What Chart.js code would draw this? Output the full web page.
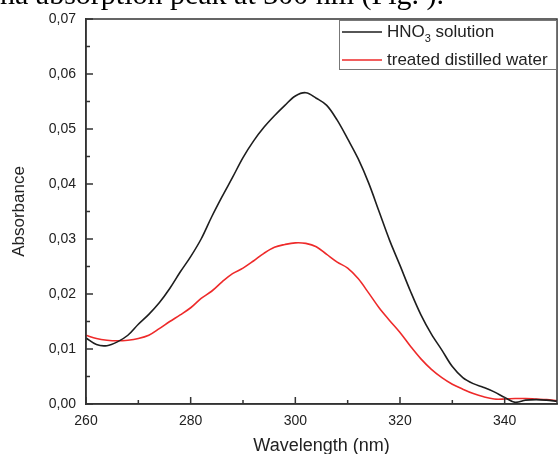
<!DOCTYPE html>
<html>
<head>
<meta charset="utf-8">
<script src="https://cdn.jsdelivr.net/npm/chart.js@4/dist/chart.umd.min.js"></script>
<style>
  html, body { margin: 0; padding: 0; background: #fff; }
  #wrap { position: relative; width: 558px; height: 454px; }
</style>
</head>
<body>
<div id="wrap"><canvas id="chart" width="558" height="454"></canvas></div>
<script>
'use strict';

// UV-Vis absorbance spectra.
const wavelength = [260, 262, 264, 266, 268, 270, 272, 274, 276, 278, 280, 282, 284, 286, 288, 290,
  292, 294, 296, 298, 300, 302, 304, 306, 308, 310, 312, 314, 316, 318, 320, 322, 324, 326, 328,
  330, 332, 334, 336, 338, 340, 342, 344, 346, 348, 350];

const hno3 = [0.0120, 0.0108, 0.0106, 0.0113, 0.0125, 0.0145, 0.0163, 0.0184, 0.0210, 0.0240,
  0.0268, 0.0300, 0.0340, 0.0377, 0.0412, 0.0448, 0.0478, 0.0503, 0.0524, 0.0543, 0.0560, 0.0566,
  0.0556, 0.0543, 0.0516, 0.0482, 0.0446, 0.0402, 0.0350, 0.0298, 0.0252, 0.0205, 0.0162, 0.0127,
  0.0098, 0.0068, 0.0048, 0.0037, 0.0030, 0.0022, 0.0012, 0.0003, 0.0007, 0.0008, 0.0007, 0.0005];

const treatedWater = [0.0125, 0.0119, 0.0116, 0.0115, 0.0116, 0.0119, 0.0125, 0.0137, 0.0150,
  0.0162, 0.0175, 0.0192, 0.0205, 0.0222, 0.0237, 0.0247, 0.0260, 0.0274, 0.0285, 0.0290, 0.0293,
  0.0292, 0.0286, 0.0272, 0.0258, 0.0247, 0.0228, 0.0202, 0.0175, 0.0152, 0.0130, 0.0105, 0.0082,
  0.0063, 0.0048, 0.0036, 0.0027, 0.0019, 0.0013, 0.0009, 0.0009, 0.0010, 0.0010, 0.0009, 0.0008,
  0.0006];

const xTicks = [260, 280, 300, 320, 340];
const xMinor = [270, 290, 310, 330];
const yTicks = [0, 0.01, 0.02, 0.03, 0.04, 0.05, 0.06, 0.07];
const yMinor = [0.005, 0.015, 0.025, 0.035, 0.045, 0.055, 0.065];

const AXIS = '#333';
const FONT = '"Liberation Sans", Arial, sans-serif';

const pts = (ys) => wavelength.map((x, i) => ({ x, y: ys[i] }));

// Inward tick marks, top/right frame, legend with subscript, clipped caption line.
const decor = {
  id: 'decor',
  afterDraw(chart) {
    const ctx = chart.ctx, a = chart.chartArea;
    const xs = chart.scales.x, ys = chart.scales.y;
    ctx.save();
    ctx.strokeStyle = AXIS;
    ctx.lineWidth = 1.5;
    ctx.strokeRect(a.left, a.top, a.right - a.left, a.bottom - a.top);

    ctx.beginPath();
    xTicks.forEach(v => { const p = xs.getPixelForValue(v); ctx.moveTo(p, a.bottom); ctx.lineTo(p, a.bottom - 7); });
    xMinor.forEach(v => { const p = xs.getPixelForValue(v); ctx.moveTo(p, a.bottom); ctx.lineTo(p, a.bottom - 4); });
    yTicks.forEach(v => { const p = ys.getPixelForValue(v); ctx.moveTo(a.left, p); ctx.lineTo(a.left + 7, p); });
    yMinor.forEach(v => { const p = ys.getPixelForValue(v); ctx.moveTo(a.left, p); ctx.lineTo(a.left + 4, p); });
    ctx.stroke();

    // legend box
    const bx = 339, by = a.top + 1, bw = a.right - 1 - bx, bh = 49;
    ctx.fillStyle = '#fff';
    ctx.fillRect(bx, by, bw, bh);
    ctx.strokeStyle = '#777';
    ctx.lineWidth = 1;
    ctx.strokeRect(bx + 0.5, by + 0.5, bw, bh);

    const rows = [
      { color: chart.data.datasets[0].borderColor, y: by + 12, parts: [['HNO', 0], ['3', 1], [' solution', 0]] },
      { color: chart.data.datasets[1].borderColor, y: by + 40, parts: [['treated distilled water', 0]] },
    ];
    ctx.textBaseline = 'middle';
    ctx.textAlign = 'left';
    rows.forEach(r => {
      ctx.strokeStyle = r.color;
      ctx.lineWidth = 1.5;
      ctx.beginPath();
      ctx.moveTo(342, r.y); ctx.lineTo(382, r.y);
      ctx.stroke();
      let x = 387;
      ctx.fillStyle = '#222';
      r.parts.forEach(([t, sub]) => {
        ctx.font = (sub ? '11px ' : '17px ') + FONT;
        ctx.fillText(t, x, r.y + (sub ? 7 : 0));
        x += ctx.measureText(t).width;
      });
    });

    // cut-off text line from the page above the figure
    ctx.fillStyle = '#000';
    ctx.font = '30px "Liberation Serif", "Times New Roman", serif';
    ctx.textBaseline = 'alphabetic';
    ctx.fillText('na absorption peak at 300 nm (Fig. ).', 0, 4);
    ctx.restore();
  }
};

new Chart(document.getElementById('chart'), {
  type: 'line',
  data: {
    datasets: [
      { label: 'HNO3 solution', data: pts(hno3), borderColor: '#1e1e1e', borderWidth: 1.6, pointRadius: 0, tension: 0.35, fill: false },
      { label: 'treated distilled water', data: pts(treatedWater), borderColor: '#ee2a2a', borderWidth: 1.6, pointRadius: 0, tension: 0.35, fill: false },
    ],
  },
  options: {
    responsive: false,
    animation: false,
    layout: { padding: { top: 19, right: 1, left: 0, bottom: 0 } },
    plugins: { legend: { display: false }, tooltip: { enabled: false } },
    scales: {
      x: {
        type: 'linear', min: 260, max: 350,
        afterBuildTicks: (s) => { s.ticks = xTicks.map(v => ({ value: v })); },
        afterFit: (s) => { s.height = 50; },
        grid: { display: false, drawTicks: false, tickLength: 0 },
        border: { display: true, color: AXIS, width: 1.5 },
        ticks: { color: '#222', font: { family: FONT, size: 14 }, padding: 9, maxRotation: 0 },
        title: { display: true, text: 'Wavelength (nm)', color: '#222', font: { family: FONT, size: 18 }, padding: { top: 0, bottom: -3 } },
      },
      y: {
        min: 0, max: 0.07,
        afterBuildTicks: (s) => { s.ticks = yTicks.map(v => ({ value: v })); },
        afterFit: (s) => { s.width = 86; },
        grid: { display: false, drawTicks: false, tickLength: 0 },
        border: { display: true, color: AXIS, width: 1.5 },
        ticks: { color: '#222', font: { family: FONT, size: 14 }, padding: 10,
          callback: (v) => (Math.round(v * 100) / 100).toFixed(2).replace('.', ',') },
        title: { display: true, text: 'Absorbance', color: '#222', font: { family: FONT, size: 17 }, padding: { top: 9, bottom: 0 } },
      },
    },
  },
  plugins: [decor],
});
</script>
</body>
</html>
